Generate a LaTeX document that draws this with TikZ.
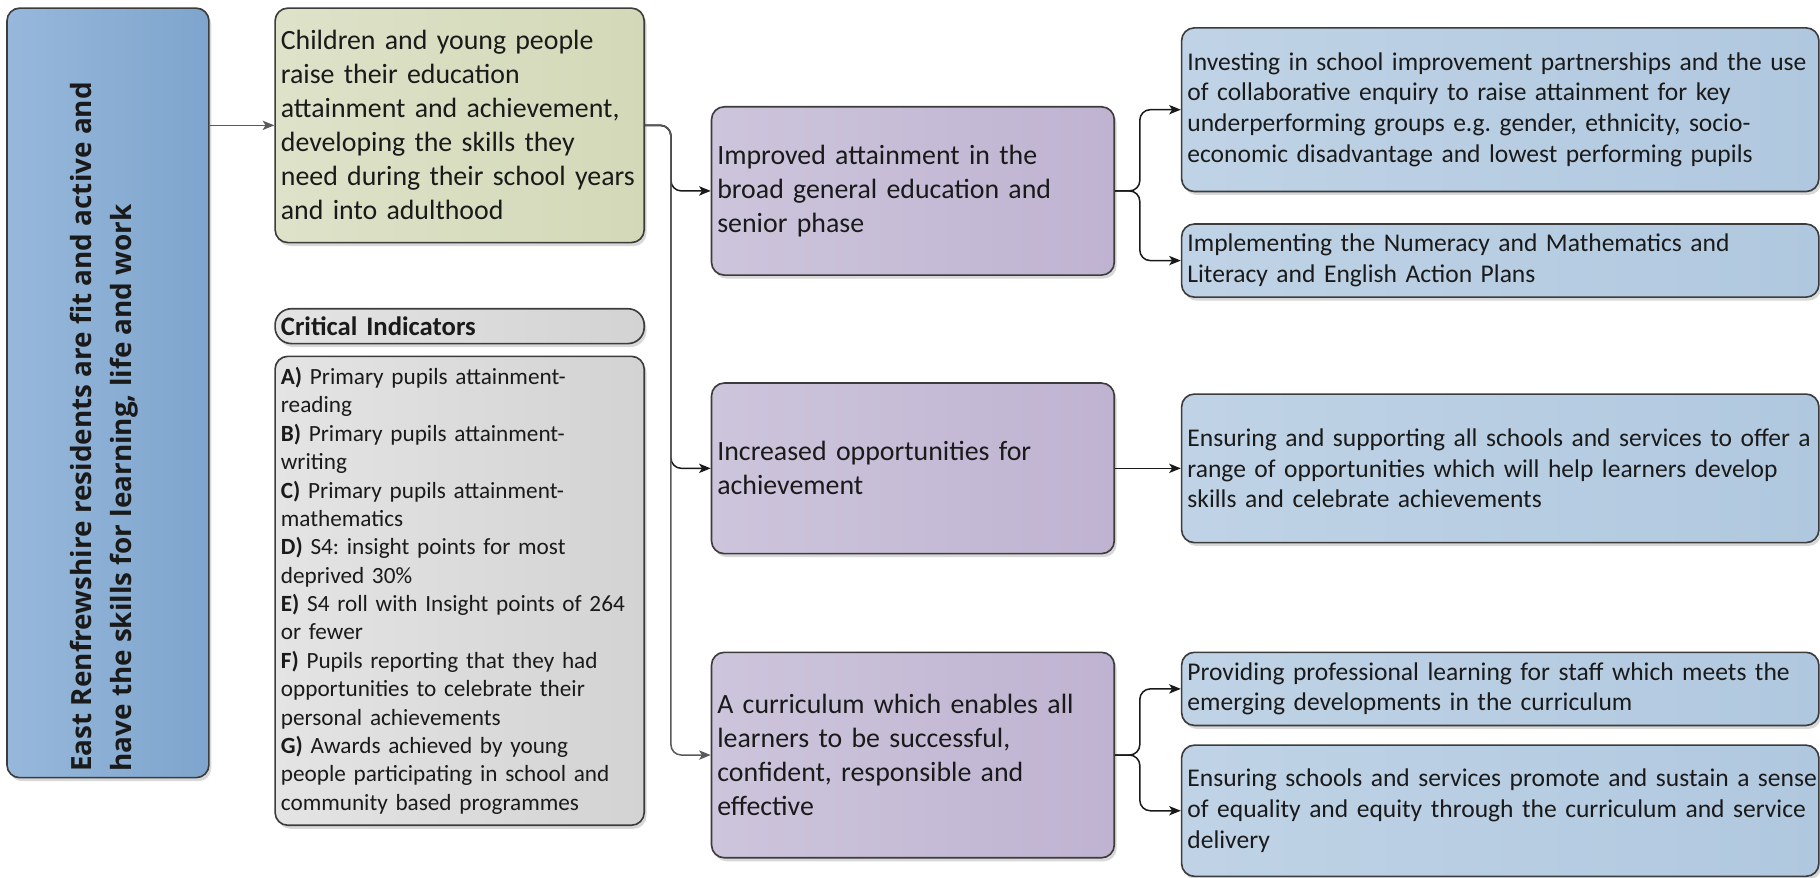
\documentclass[tikz,border=0pt]{standalone}
\usepackage{fontspec}
\setmainfont{Carlito}
\newfontfamily\lfont{Open Sans}
\usetikzlibrary{arrows.meta,shadows,calc}
\definecolor{bord}{HTML}{3C3C3C}
\definecolor{txt}{HTML}{1A1A1A}
\frenchspacing
\begin{document}
\begin{tikzpicture}[x=1pt,y=-1pt,
  box/.style={draw=bord, line width=1.4pt, rounded corners=11pt, text=txt,
    drop shadow={shadow xshift=2pt, shadow yshift=-3pt, fill=black!30, opacity=.5},
    inner xsep=5pt, inner ysep=2pt, align=left, anchor=center},
  lbox/.style={box, left color=lblA, right color=lblB},
  gbox/.style={box, left color=grnA, right color=grnB, font=\fontsize{24}{29.3}\selectfont},
  hbox/.style={box, rounded corners=14pt, left color=gryA, right color=gryB, font=\fontsize{23}{26}\selectfont\bfseries},
  cbox/.style={box, left color=gryA, right color=gryB, font=\fontsize{20}{24.45}\selectfont},
  pbox/.style={box, left color=purA, right color=purB, font=\fontsize{24}{29.2}\selectfont},
  bbox/.style={box, left color=bluA, right color=bluB, font=\fontsize{22}{26.6}\selectfont},
  conn/.style={draw=black!90, line width=1.3pt, -{Stealth[length=10pt,width=8pt,inset=2.5pt]}},
  ltext/.style={font=\fontsize{24}{34.5}\selectfont\lfont\bfseries, text=txt, align=left, inner sep=0pt}
]
\definecolor{lblA}{HTML}{97B8DB}
\definecolor{lblB}{HTML}{7EA5CD}
\definecolor{grnA}{HTML}{DEE2C9}
\definecolor{grnB}{HTML}{D3D9B8}
\definecolor{gryA}{HTML}{E4E4E4}
\definecolor{gryB}{HTML}{D3D3D3}
\definecolor{purA}{HTML}{CDC5DC}
\definecolor{purB}{HTML}{BFB3D1}
\definecolor{bluA}{HTML}{C0D3E6}
\definecolor{bluB}{HTML}{B0C8DF}
\useasboundingbox[fill=white] (0,0) rectangle (1568,756.4);

% left column
\node[lbox, minimum width=174pt, minimum height=663pt] (L) at (93,338.5) {};
\node[ltext, rotate=90, anchor=west] (Lt) at (90,665) {East Renfrewshire residents are fit and active and\\have the skills for learning, life and work};

% second column
\node[gbox, minimum width=318pt, minimum height=202pt, text width=308pt] (G) at (396,108)
  {Children and young people\\raise their education\\attainment and achievement,\\developing the skills they\\need during their school years\\and into adulthood};
\node[hbox, minimum width=318pt, minimum height=30pt, text width=308pt, inner ysep=0pt] (H) at (396,281) {Critical Indicators};
\node[cbox, minimum width=318pt, minimum height=404pt, text width=308pt] (C) at (396,509)
  {\textbf{A)} Primary pupils attainment-\\reading\\
   \textbf{B)} Primary pupils attainment-\\writing\\
   \textbf{C)} Primary pupils attainment-\\mathematics\\
   \textbf{D)} S4: insight points for most\\deprived 30\%\\
   \textbf{E)} S4 roll with Insight points of 264\\or fewer\\
   \textbf{F)} Pupils reporting that they had\\opportunities to celebrate their\\personal achievements\\
   \textbf{G)} Awards achieved by young\\people participating in school and\\community based programmes};

% third column
\node[pbox, minimum width=347pt, minimum height=145pt, text width=337pt] (P1) at (786.5,164.5)
  {Improved attainment in the\\broad general education and\\senior phase};
\node[pbox, minimum width=347pt, minimum height=147pt, text width=337pt] (P2) at (786.5,403.5)
  {Increased opportunities for\\achievement};
\node[pbox, minimum width=347pt, minimum height=177pt, text width=337pt] (P3) at (786.5,650.5)
  {A curriculum which enables all\\learners to be successful,\\confident, responsible and\\effective};

% fourth column
\node[bbox, minimum width=549pt, minimum height=141pt, text width=539pt] (B1) at (1292.5,94.5)
  {\mbox{Investing in school improvement partnerships and the use}\\of collaborative enquiry to raise attainment for key\\underperforming groups e.g. gender, ethnicity, socio-\\economic disadvantage and lowest performing pupils};
\node[bbox, minimum width=549pt, minimum height=63pt, text width=539pt] (B2) at (1292.5,224.5)
  {Implementing the Numeracy and Mathematics and\\Literacy and English Action Plans};
\node[bbox, minimum width=549pt, minimum height=128pt, text width=539pt] (B3) at (1292.5,403.5)
  {\mbox{Ensuring and supporting all schools and services to offer a}\\range of opportunities which will help learners develop\\skills and celebrate achievements};
\node[bbox, minimum width=549pt, minimum height=63pt, text width=539pt] (B4) at (1292.5,593.5)
  {Providing professional learning for staff which meets the\\emerging developments in the curriculum};
\node[bbox, minimum width=549pt, minimum height=113pt, text width=539pt] (B5) at (1292.5,698.5)
  {\mbox{Ensuring schools and services promote and sustain a sense}\\\mbox{of equality and equity through the curriculum and service}\\delivery};

% connectors
\coordinate (tr) at (578,0);
\coordinate (br) at (982,0);
\draw[conn, draw=black!65] (L.east |- G.west) -- (G.west);
\draw[conn, rounded corners=9pt] (G.east) -- (G.east -| tr) |- (P1.west);
\draw[conn, rounded corners=9pt] (G.east) -- (G.east -| tr) |- (P2.west);
\draw[conn, draw=black!65, rounded corners=9pt] (G.east) -- (G.east -| tr) |- (P3.west);
\draw[conn, rounded corners=9pt] (P1.east) -- (P1.east -| br) |- (B1.west);
\draw[conn, rounded corners=9pt] (P1.east) -- (P1.east -| br) |- (B2.west);
\draw[conn] (P2.east) -- (B3.west);
\draw[conn, rounded corners=9pt] (P3.east) -- (P3.east -| br) |- (B4.west);
\draw[conn, rounded corners=9pt] (P3.east) -- (P3.east -| br) |- (B5.west);
\end{tikzpicture}
\end{document}
